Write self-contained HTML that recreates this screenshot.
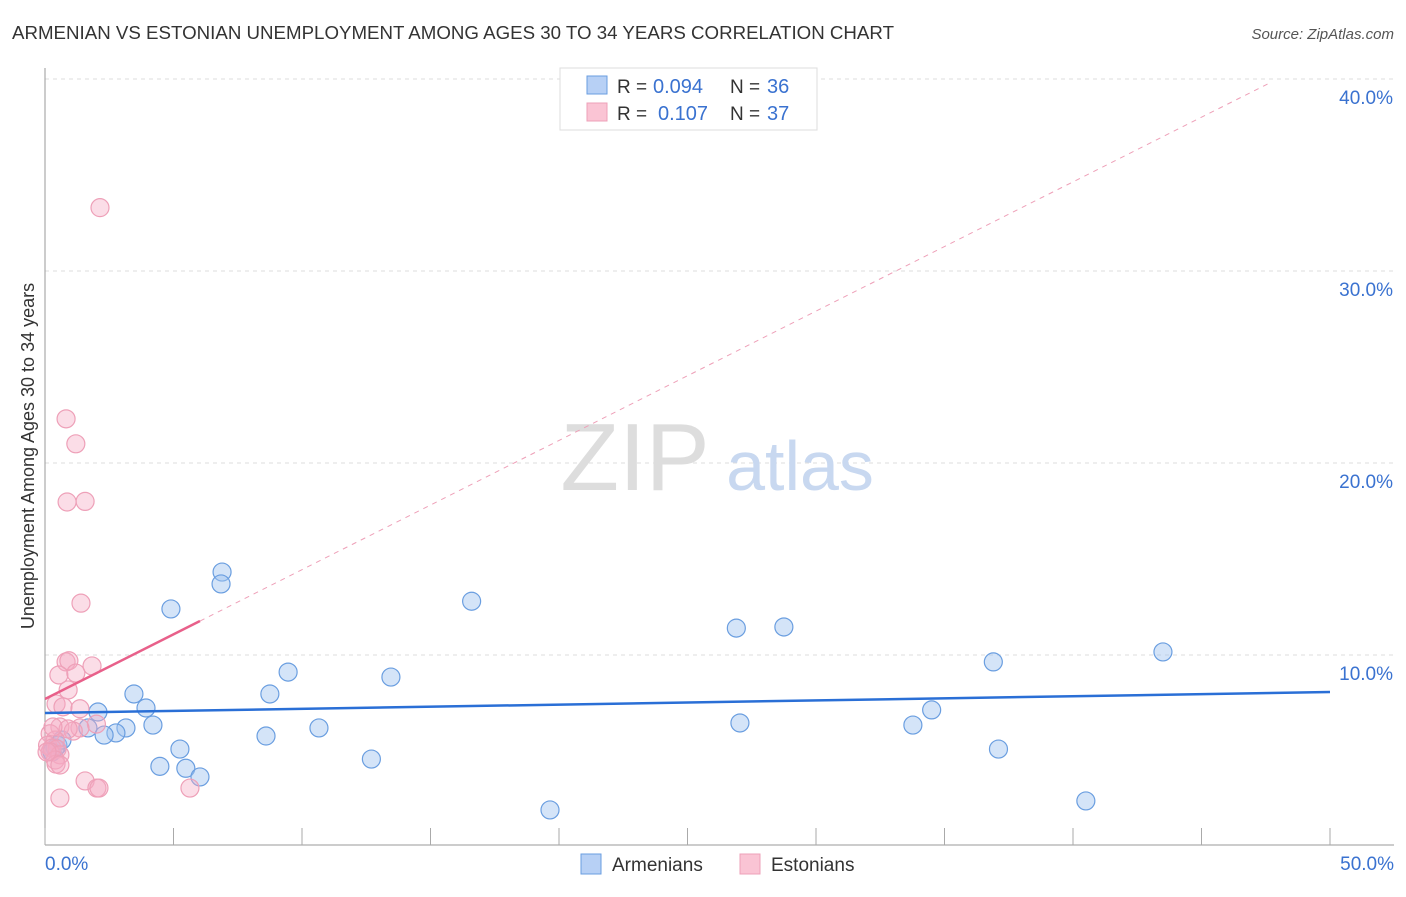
<!DOCTYPE html>
<html><head><meta charset="utf-8"><style>
body{margin:0;background:#fff;font-family:"Liberation Sans",sans-serif;}
svg text{font-family:"Liberation Sans",sans-serif;}
</style></head><body>
<svg id="chart" width="1406" height="892" xmlns="http://www.w3.org/2000/svg">
<text x="12" y="39" font-size="18" fill="#333" textLength="882" lengthAdjust="spacingAndGlyphs">ARMENIAN VS ESTONIAN UNEMPLOYMENT AMONG AGES 30 TO 34 YEARS CORRELATION CHART</text>
<text x="1394" y="39" font-size="15" font-style="italic" fill="#555" text-anchor="end">Source: ZipAtlas.com</text>
<g id="grid"></g>
<text x="635" y="490" font-size="96" fill="#ddd" text-anchor="middle">ZIP</text>
<text x="800" y="490" font-size="70" fill="#c8d8f0" text-anchor="middle">atlas</text>
<g id="marks"></g>
<text transform="translate(34,456) rotate(-90)" font-size="18" fill="#333" text-anchor="middle">Unemployment Among Ages 30 to 34 years</text>
<g>
<rect x="560" y="68" width="257" height="62" fill="#fff" stroke="#ddd"/>
<rect x="587" y="76" width="20" height="18" fill="#b7d0f5" stroke="#6a9ee0"/>
<rect x="587" y="103" width="20" height="18" fill="#fac4d4" stroke="#eea0b8"/>
<text x="617" y="93" font-size="19" fill="#333">R =</text>
<text x="653" y="93" font-size="20" fill="#3a72d0">0.094</text>
<text x="730" y="93" font-size="19" fill="#333">N =</text>
<text x="767" y="93" font-size="20" fill="#3a72d0">36</text>
<text x="617" y="120" font-size="19" fill="#333">R =</text>
<text x="658" y="120" font-size="20" fill="#3a72d0">0.107</text>
<text x="730" y="120" font-size="19" fill="#333">N =</text>
<text x="767" y="120" font-size="20" fill="#3a72d0">37</text>
</g>
<g>
<rect x="581" y="854" width="20" height="20" fill="#b7d0f5" stroke="#6a9ee0"/>
<text x="612" y="871" font-size="19" fill="#333">Armenians</text>
<rect x="740" y="854" width="20" height="20" fill="#fac4d4" stroke="#eea0b8"/>
<text x="771" y="871" font-size="19" fill="#333">Estonians</text>
</g>
</svg>
<script>
const yTicks=[10,20,30,40];
const yTickLabels=["10.0%","20.0%","30.0%","40.0%"];
const xTickLabels=["0.0%","50.0%"];
const blueX=[6.89,6.85,4.9,16.6,26.9,28.75,43.5,36.9,9.46,13.46,3.46,8.75,3.93,2.06,34.5,4.2,3.15,10.66,27.04,33.77,1.67,2.76,2.3,8.6,5.25,0.5,0.4,0.27,37.1,12.7,4.47,5.48,6.03,40.5,19.65,0.66];
const blueY=[14.32,13.7,12.4,12.8,11.4,11.46,10.16,9.64,9.11,8.85,7.97,7.97,7.24,7.03,7.14,6.35,6.2,6.2,6.46,6.35,6.2,5.94,5.83,5.78,5.1,5.3,5.15,4.95,5.1,4.58,4.2,4.1,3.65,2.4,1.93,5.57];
const pinkX=[2.14,0.82,1.2,0.86,1.56,1.4,0.82,0.93,1.83,0.54,1.2,0.9,0.43,0.7,1.36,2.0,1.36,0.58,1.1,0.9,0.2,0.4,0.1,0.27,0.47,0.2,0.58,0.4,0.43,0.58,1.56,2.02,2.1,5.64,0.58,0.31,0.08];
const pinkY=[33.3,22.3,21.0,17.97,18.0,12.7,9.64,9.7,9.43,8.96,9.06,8.18,7.45,7.3,7.2,6.4,6.2,6.25,6.04,6.15,5.9,5.57,5.3,5.15,5.1,4.95,4.8,4.53,4.32,4.27,3.44,3.07,3.07,3.07,2.55,6.25,4.95];
const blueTrend=[6.98,8.07];
const pinkTrend=[7.71,11.77];
const pinkSolidEnd=6.03;
const NS="http://www.w3.org/2000/svg";
const X=v=>45+v*25.7, Y=v=>847-v*19.2;
function mk(t,a,p){const e=document.createElementNS(NS,t);for(const k in a)e.setAttribute(k,a[k]);(p||document.getElementById('marks')).appendChild(e);return e;}
const grid=document.getElementById('grid');
yTicks.forEach((t,i)=>{
 const l=mk('line',{x1:45,x2:1394,y1:Y(t),y2:Y(t),stroke:'#ddd','stroke-dasharray':'4,4'},grid);
 
 
 const tx=mk('text',{x:1393,y:Y(t)+25,'font-size':19,fill:'#3a72d0','text-anchor':'end'},grid);
 tx.textContent=yTickLabels[i];
 
 
});
mk('line',{x1:45,x2:45,y1:68,y2:845,stroke:'#999'},grid);
mk('line',{x1:45,x2:1394,y1:845,y2:845,stroke:'#999'},grid);
for(let i=0;i<=10;i++){mk('line',{x1:X(i*5),x2:X(i*5),y1:828,y2:845,stroke:'#aaa'},grid);}
[[0,'start',45],[50,'end',1394]].forEach((d,i)=>{const t=mk('text',{x:d[2],y:870,'font-size':19,fill:'#3a72d0','text-anchor':d[1]},grid);t.textContent=xTickLabels[i];
 
 });
blueX.forEach((x,i)=>{const c=mk('circle',{cx:X(x),cy:Y(blueY[i]),r:9,fill:'rgba(160,196,240,0.45)',stroke:'#6a9ee0','stroke-width':1.2});
 
 });
pinkX.forEach((x,i)=>{const c=mk('circle',{cx:X(x),cy:Y(pinkY[i]),r:9,fill:'rgba(245,170,195,0.4)',stroke:'#eea0b8','stroke-width':1.2});
 
 });
const slope=(pinkTrend[1]-pinkTrend[0])/pinkSolidEnd;
const xEnd=(39.8-pinkTrend[0])/slope;
const d=mk('line',{x1:X(pinkSolidEnd),y1:Y(pinkTrend[1]),x2:X(xEnd),y2:Y(39.8),stroke:'#eea0b8','stroke-dasharray':'5,5','stroke-width':1});


const pl=mk('line',{x1:X(0),y1:Y(pinkTrend[0]),x2:X(pinkSolidEnd),y2:Y(pinkTrend[1]),stroke:'#e8608a','stroke-width':2.5});


const bl=mk('line',{x1:X(0),y1:Y(blueTrend[0]),x2:X(50),y2:Y(blueTrend[1]),stroke:'#2a6fd6','stroke-width':2.5});


</script>
</body></html>
